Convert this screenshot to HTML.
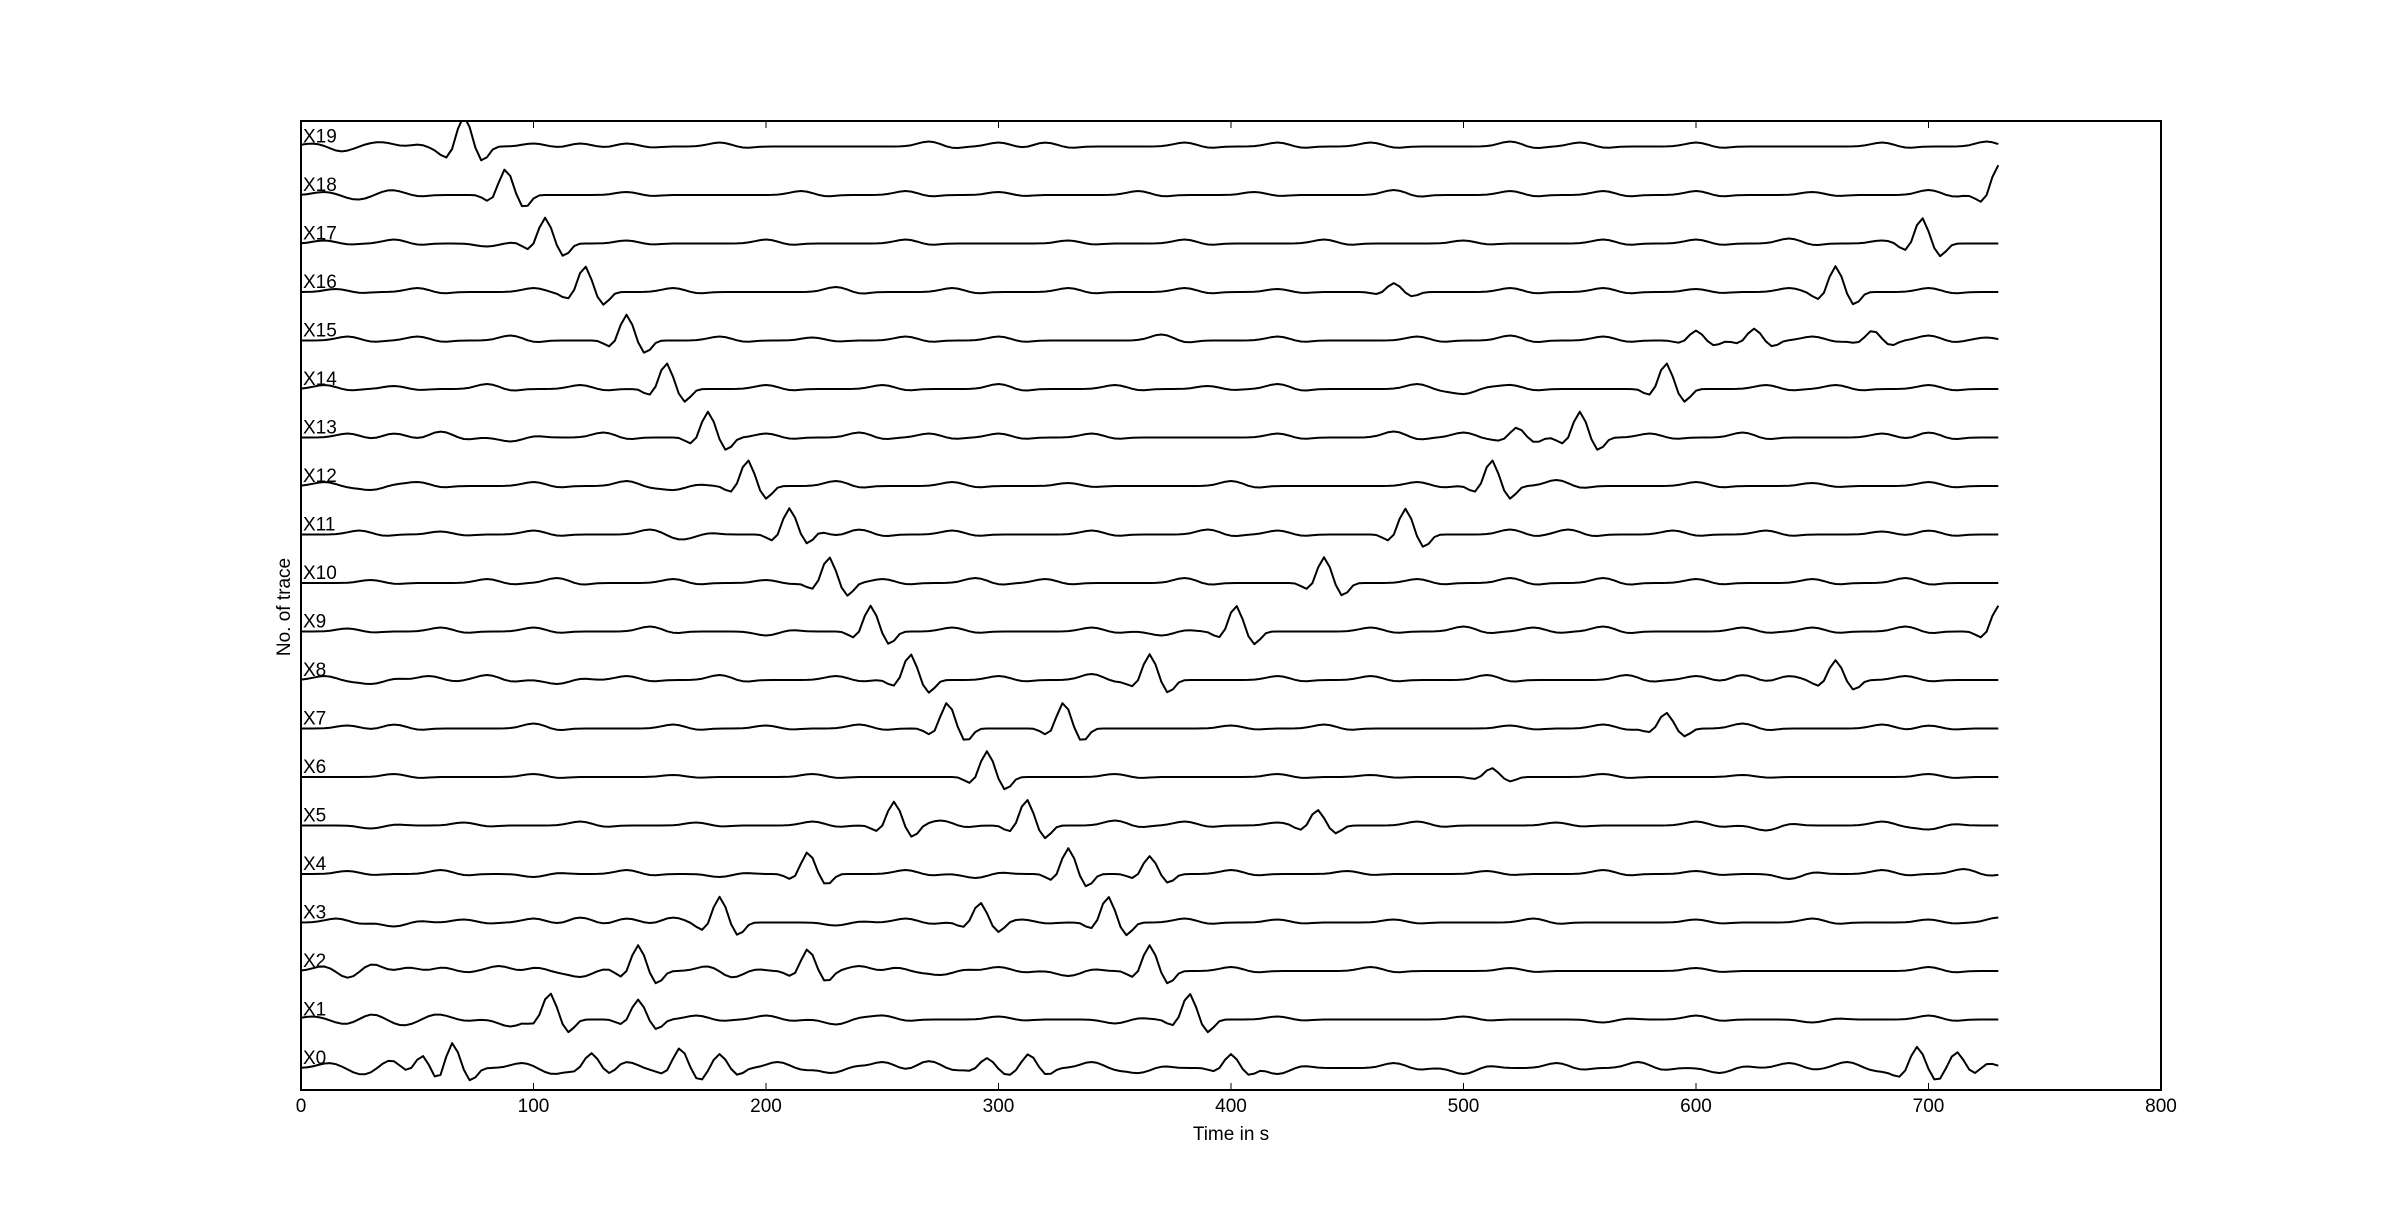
<!DOCTYPE html>
<html><head><meta charset="utf-8">
<style>
html,body{margin:0;padding:0;background:#fff;}
svg{display:block;font-family:"Liberation Sans","DejaVu Sans",sans-serif;}
</style></head>
<body>
<svg id="chart" width="2400" height="1211" viewBox="0 0 2400 1211">
<rect x="0" y="0" width="2400" height="1211" fill="#fff"/>
<defs><clipPath id="pc"><rect x="301" y="121" width="1860" height="969"/></clipPath></defs>
<g id="traces" clip-path="url(#pc)"></g>
<g id="labels"></g>
<rect x="301" y="121" width="1860" height="969" fill="none" stroke="#000" stroke-width="2"/>
<g id="xticks"></g>
<text x="1231" y="1140" font-size="19" text-anchor="middle">Time in s</text>
<text x="0" y="0" font-size="19" text-anchor="middle" transform="translate(290,607) rotate(-90)">No. of trace</text>
</svg>
<script>
const xTicks=[0,100,200,300,400,500,600,700,800];
const traceNames=["X0","X1","X2","X3","X4","X5","X6","X7","X8","X9","X10","X11","X12","X13","X14","X15","X16","X17","X18","X19"];
// major peaks [time, amplitude px]
const majorPeaks=[
[[52,14],[65,26],[125,14],[163,20],[180,14],[295,10],[313,14],[400,14],[695,20],[712,16]],
[[107,26],[145,20],[382,26]],
[[145,26],[218,22],[365,26]],
[[180,26],[292,20],[347,26]],
[[218,22],[330,26],[365,18]],
[[255,24],[312,26],[437,16]],
[[295,26],[512,9]],
[[278,26],[328,26],[587,16]],
[[262,26],[365,26],[660,20]],
[[245,26],[402,26],[730,26]],
[[227,26],[440,26]],
[[210,26],[475,26]],
[[192,26],[512,26]],
[[175,26],[550,26],[523,10]],
[[157,26],[587,26]],
[[140,26],[600,10],[625,12],[676,10]],
[[122,26],[660,26],[470,9]],
[[105,26],[697,26]],
[[88,26],[730,30]],
[[70,30]]
];
// minor wiggles [time, amplitude px]
const minorWiggles=[
[[12,5],[28,-6],[38,6],[95,5],[110,-5],[140,6],[205,6],[228,-5],[250,6],[270,7],[340,6],[360,-5],[420,-6],[470,5],[500,-6],[540,5],[575,6],[610,-5],[640,5],[665,6],[685,-5],[725,5]],
[[5,3],[20,-4],[30,4],[45,-5],[60,4],[90,-7],[170,4],[200,4],[230,-5],[250,4],[300,3],[350,-4],[420,3],[500,3],[560,-3],[600,4],[650,-3],[700,4]],
[[10,5],[20,-6],[30,5],[45,4],[60,4],[85,5],[100,4],[120,-6],[175,5],[185,-5],[240,5],[255,4],[275,-4],[300,4],[330,-5],[400,4],[460,4],[520,3],[600,3],[700,4]],
[[15,4],[40,-4],[70,3],[100,4],[120,5],[140,4],[160,5],[230,-3],[260,4],[310,3],[380,4],[420,3],[470,3],[530,4],[600,3],[650,4],[700,3],[730,5]],
[[20,3],[60,4],[100,-3],[140,4],[180,-3],[260,4],[290,-4],[400,4],[450,3],[510,3],[560,4],[600,3],[640,-5],[680,4],[715,5]],
[[30,-3],[70,3],[120,4],[170,3],[220,4],[275,5],[350,5],[380,4],[420,3],[480,4],[540,3],[600,4],[630,-5],[680,4],[700,-4]],
[[40,3],[100,3],[160,2],[220,3],[350,3],[420,3],[460,2],[560,3],[620,2],[700,3]],
[[20,3],[40,4],[100,5],[160,4],[200,3],[240,4],[400,3],[440,4],[520,3],[560,4],[620,5],[680,4],[700,3]],
[[10,4],[30,-4],[55,4],[80,5],[110,-4],[140,4],[180,5],[230,4],[300,4],[340,6],[420,4],[460,4],[510,5],[570,5],[600,4],[620,5],[640,4],[690,4]],
[[20,3],[60,4],[100,4],[150,5],[200,-4],[280,4],[340,4],[370,-4],[460,4],[500,5],[530,4],[560,5],[620,4],[650,4],[690,5]],
[[30,3],[80,4],[110,5],[160,4],[200,3],[250,4],[290,5],[320,4],[380,5],[480,4],[520,5],[560,5],[600,4],[650,4],[690,5]],
[[25,4],[60,3],[100,4],[150,5],[165,-4],[220,4],[240,5],[280,4],[340,4],[390,5],[420,4],[520,5],[545,5],[590,4],[630,4],[680,3],[700,4]],
[[10,4],[30,-4],[50,4],[100,4],[140,5],[160,-4],[230,5],[280,4],[330,3],[400,5],[480,4],[540,6],[600,4],[650,3],[700,4]],
[[20,4],[40,4],[60,6],[90,-4],[130,5],[200,4],[240,5],[270,4],[300,4],[340,4],[420,4],[470,6],[500,5],[580,4],[620,5],[680,4],[700,5]],
[[10,4],[40,3],[80,5],[120,4],[200,4],[250,4],[300,5],[350,4],[390,3],[420,5],[480,5],[500,-5],[520,4],[630,4],[660,4],[700,4]],
[[20,4],[50,4],[90,5],[180,4],[220,3],[260,4],[300,4],[370,6],[420,4],[480,4],[520,5],[560,4],[650,4],[700,5],[725,3]],
[[15,3],[50,4],[100,4],[160,4],[230,5],[280,4],[330,4],[380,4],[420,3],[520,4],[560,4],[600,3],[640,4],[700,4]],
[[10,3],[40,4],[80,-3],[140,3],[200,4],[260,4],[330,3],[380,4],[440,4],[500,3],[560,4],[600,4],[640,5],[680,3]],
[[10,3],[25,-4],[40,4],[140,3],[215,4],[260,4],[300,3],[360,4],[410,3],[470,5],[520,4],[560,4],[600,4],[650,3],[700,5]],
[[5,3],[18,-4],[35,4],[50,3],[60,-4],[100,3],[120,3],[140,3],[180,4],[270,5],[300,4],[320,4],[380,4],[420,4],[460,4],[520,5],[550,4],[600,4],[680,4],[725,5]]
];
const X0=301, X1=2161, xMin=0, xMax=800;
const baseY0=1068, step=48.5;
function xs(t){return X0+(t-xMin)/(xMax-xMin)*(X1-X0);}
function ys(i,v){return baseY0-i*step-v;}
const NS="http://www.w3.org/2000/svg";
const gT=document.getElementById('traces');
const gL=document.getElementById('labels');
for(let i=0;i<traceNames.length;i++){
  let d="";
  for(let t=0;t<=730;t+=2.5){
    let v=0;
    for(const [t0,a] of majorPeaks[i]){
      v+=a*Math.exp(-Math.pow((t-t0)/3.8,2));
      v-=0.5*a*Math.exp(-Math.pow((t-t0-8)/3.5,2));
      v-=0.25*a*Math.exp(-Math.pow((t-t0+7)/3.5,2));
    }
    for(const [t0,a] of minorWiggles[i]){
      v+=a*Math.exp(-Math.pow((t-t0)/6.5,2));
      v-=0.35*a*Math.exp(-Math.pow((t-t0-11)/5,2));
    }
    d+=(d?"L":"M")+xs(t).toFixed(1)+","+ys(i,v).toFixed(1);
  }
  const p=document.createElementNS(NS,'path');
  p.setAttribute('d',d);
  p.setAttribute('fill','none');
  p.setAttribute('stroke','#000');
  p.setAttribute('stroke-width','2');
  p.setAttribute('stroke-linejoin','round');
  
  
  gT.appendChild(p);
  const tx=document.createElementNS(NS,'text');
  tx.setAttribute('x',303);
  tx.setAttribute('y',ys(i,0)-4);
  tx.setAttribute('font-size','19');
  tx.textContent=traceNames[i];
  
  
  gL.appendChild(tx);
}
const gX=document.getElementById('xticks');
for(const v of xTicks){
  const x=xs(v);
  for(const [y1,y2] of [[1090,1083],[121,128]]){
    const l=document.createElementNS(NS,'line');
    l.setAttribute('x1',x);l.setAttribute('x2',x);
    l.setAttribute('y1',y1);l.setAttribute('y2',y2);
    l.setAttribute('stroke','#000');l.setAttribute('stroke-width','1');
    
    
    gX.appendChild(l);
  }
  const t=document.createElementNS(NS,'text');
  t.setAttribute('x',x);t.setAttribute('y',1112);
  t.setAttribute('font-size','19');t.setAttribute('text-anchor','middle');
  t.textContent=v;
  
  
  gX.appendChild(t);
}
</script>
</body></html>
